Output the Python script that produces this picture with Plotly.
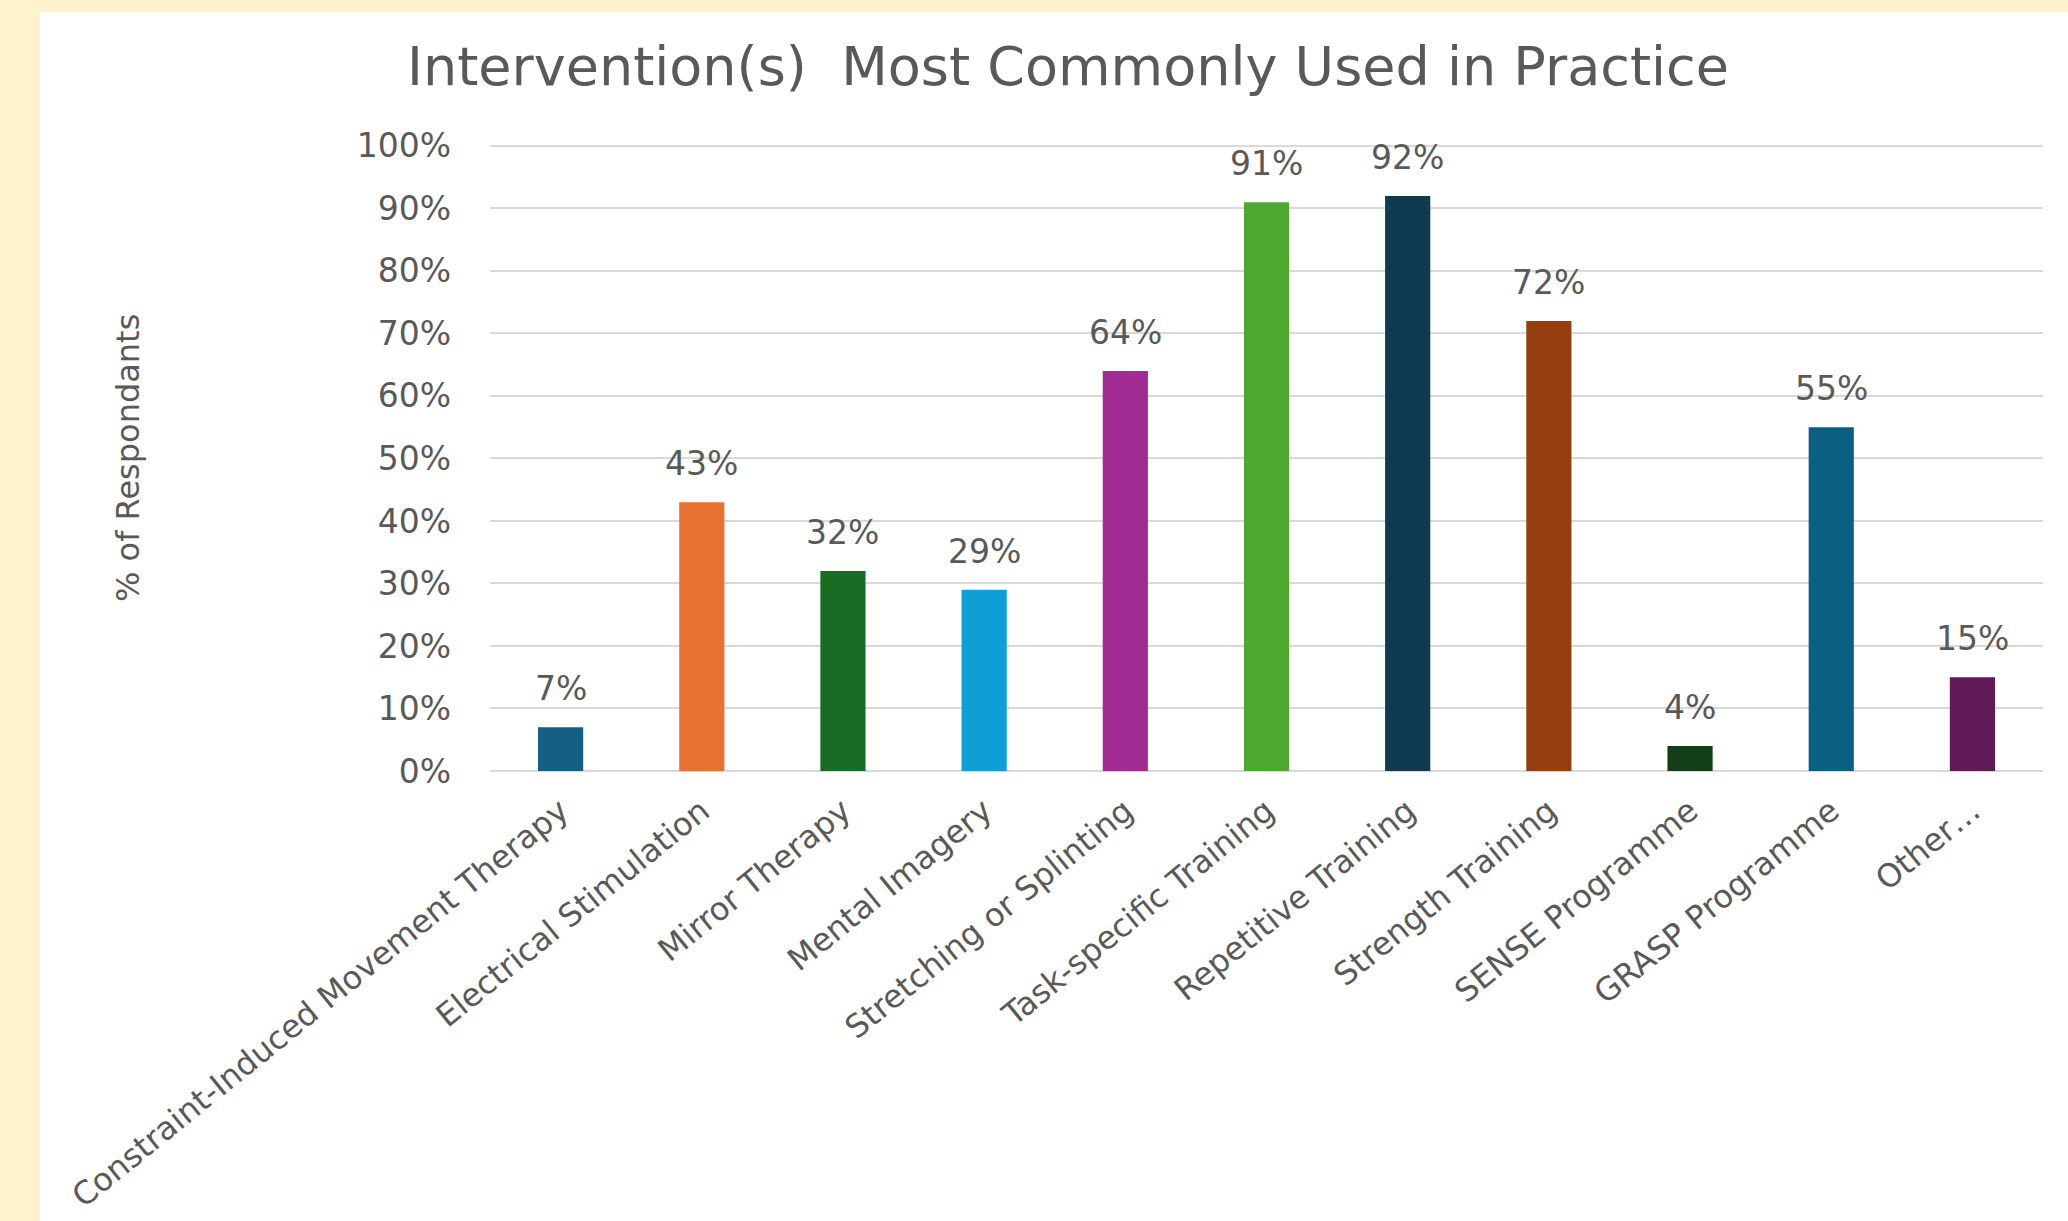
import plotly.graph_objects as go

categories = [
    "Constraint-Induced Movement Therapy",
    "Electrical Stimulation",
    "Mirror Therapy",
    "Mental Imagery",
    "Stretching or Splinting",
    "Task-specific Training",
    "Repetitive Training",
    "Strength Training",
    "SENSE Programme",
    "GRASP Programme",
    "Other…",
]
values = [7, 43, 32, 29, 64, 91, 92, 72, 4, 55, 15]
bar_colors = [
    "#156082", "#E97132", "#196B24", "#0F9ED5", "#A02B93", "#4EA72E",
    "#0F3A4F", "#953E12", "#113E16", "#0B5F80", "#601B56",
]
y_ticks = [0, 10, 20, 30, 40, 50, 60, 70, 80, 90, 100]
y_tick_labels = [f"{v}%" for v in y_ticks]

W, H = 2068, 1221
ML, MR, MT, MB = 490, 25, 144, 450
PW = W - ML - MR
PH = H - MT - MB

FONT = "DejaVu Sans"
GREY = "#595959"

fig = go.Figure()
fig.add_trace(go.Bar(
    x=categories, y=values,
    marker=dict(color=bar_colors, line=dict(width=0)),
    width=0.32,
    cliponaxis=False,
    hoverinfo="x+y",
))

for c, v in zip(categories, values):
    fig.add_annotation(
        x=c, y=v, xref="x", yref="y", text=f"{v}%", showarrow=False,
        yanchor="bottom", yshift=17,
        font=dict(family=FONT, size=33, color=GREY),
    )

# y axis title
fig.add_annotation(
    x=(128 - ML) / PW, y=(H - MB - 458) / PH, xref="paper", yref="paper",
    text="% of Respondants", textangle=-90, showarrow=False,
    xanchor="center", yanchor="middle",
    font=dict(family=FONT, size=32, color=GREY),
)

# white panel over beige page
fig.add_shape(
    type="rect", xref="paper", yref="paper", layer="below",
    x0=(40 - ML) / PW, x1=(W + 5 - ML) / PW,
    y0=(H - MB - (H + 5)) / PH, y1=(H - MB - 12) / PH,
    fillcolor="white", line=dict(width=0),
)

fig.update_layout(
    width=W, height=H,
    margin=dict(l=ML, r=MR, t=MT, b=MB, autoexpand=False),
    paper_bgcolor="#FFF2CC",
    plot_bgcolor="rgba(0,0,0,0)",
    showlegend=False,
    title=dict(
        text="Intervention(s)\u00a0 Most Commonly Used in Practice",
        x=1068 / W, xref="container", xanchor="center",
        y=1 - 66 / H, yref="container", yanchor="middle",
        font=dict(family=FONT, size=54, color=GREY),
    ),
    font=dict(family=FONT, color=GREY),
    bargap=0.68,
)

fig.update_xaxes(
    tickangle=-39,
    tickfont=dict(family=FONT, size=32, color=GREY),
    showgrid=False, ticks="", showline=False,
    ticklabelstandoff=14,
)
fig.update_yaxes(
    range=[0, 100.3],
    tickvals=y_ticks, ticktext=y_tick_labels,
    tickfont=dict(family=FONT, size=33, color=GREY),
    showgrid=True, gridcolor="#D9D9D9", gridwidth=2,
    zeroline=True, zerolinecolor="#D9D9D9", zerolinewidth=2,
    ticks="", showline=False,
    ticklabelstandoff=38,
)

fig.write_html(
    "out.html",
    config={"displayModeBar": False},
    post_script="document.body.style.margin='0px';document.body.style.overflow='hidden';",
)
